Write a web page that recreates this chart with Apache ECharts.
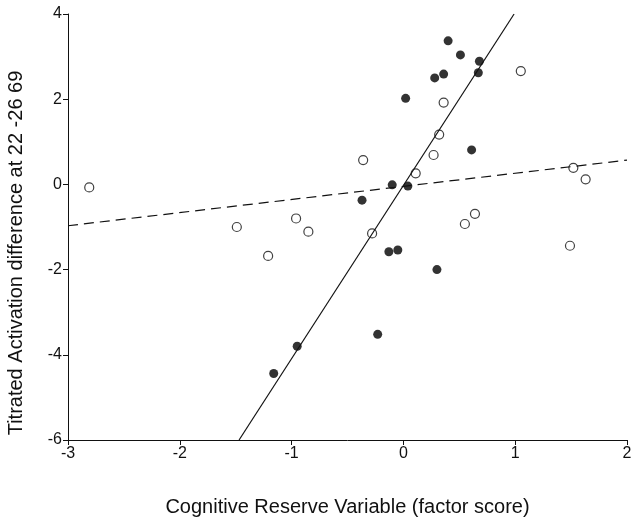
<!DOCTYPE html>
<html>
<head>
<meta charset="utf-8">
<script src="https://cdn.jsdelivr.net/npm/echarts@6/dist/echarts.min.js"></script>
<style>
html,body{margin:0;padding:0;background:#fff;}
#chart{width:636px;height:528px;}
</style>
</head>
<body>
<div id="chart"></div>
<script>
// filled circles [x, y]
const filledPoints = [
  [0.40, 3.37], [0.51, 3.04], [0.68, 2.89], [0.67, 2.62], [0.28, 2.50],
  [0.36, 2.59], [0.02, 2.02], [0.61, 0.81], [-0.10, -0.01], [0.04, -0.04],
  [-0.37, -0.37], [-0.13, -1.58], [-0.05, -1.54], [0.30, -2.00],
  [-0.23, -3.52], [-0.95, -3.80], [-1.16, -4.44]
];
// open circles [x, y]
const openPoints = [
  [1.05, 2.66], [0.36, 1.92], [0.32, 1.17], [0.27, 0.69], [-0.36, 0.57],
  [0.11, 0.26], [1.52, 0.39], [1.63, 0.12], [0.64, -0.69], [0.55, -0.93],
  [-0.28, -1.15], [1.49, -1.44], [-2.81, -0.07], [-1.49, -1.00],
  [-0.96, -0.80], [-0.85, -1.11], [-1.21, -1.68]
];
// regression lines (endpoints)
const solidLine = [[-1.47, -6], [0.99, 4]];
const dashedLine = [[-3, -0.97], [2, 0.57]];

const xTitle = 'Cognitive Reserve Variable (factor score)';
const yTitle = 'Titrated Activation difference at 22 -26 69';

const font = 'Liberation Sans, Arial, sans-serif';
const chart = echarts.init(document.getElementById('chart'), null, {renderer: 'canvas'});
chart.setOption({
  animation: false,
  backgroundColor: '#fff',
  grid: {left: 68, right: 9, top: 14, bottom: 88, containLabel: false},
  xAxis: {
    type: 'value', min: -3, max: 2, interval: 1,
    axisLine: {onZero: false, lineStyle: {color: '#111', width: 1}},
    axisTick: {inside: false, length: 5, lineStyle: {color: '#111'}},
    axisLabel: {color: '#111', fontSize: 16, fontFamily: font, margin: 6},
    splitLine: {show: false},
    name: xTitle, nameLocation: 'middle', nameGap: 57,
    nameTextStyle: {color: '#111', fontSize: 20, fontFamily: font}
  },
  yAxis: {
    type: 'value', min: -6, max: 4, interval: 2,
    axisLine: {onZero: false, lineStyle: {color: '#111', width: 1}},
    axisTick: {inside: false, length: 5, lineStyle: {color: '#111'}},
    axisLabel: {color: '#111', fontSize: 16, fontFamily: font, margin: 6},
    splitLine: {show: false}
  },
  graphic: [{
    type: 'text',
    x: 16, y: 253, rotation: Math.PI / 2,
    style: {
      text: yTitle, fill: '#111', fontSize: 20, fontFamily: font,
      align: 'center', verticalAlign: 'middle'
    }
  }],
  series: [
    {
      type: 'line', data: solidLine, symbol: 'none',
      lineStyle: {color: '#111', width: 1.2}, silent: true
    },
    {
      type: 'line', data: dashedLine, symbol: 'none',
      lineStyle: {color: '#111', width: 1.2, type: [10, 6]}, silent: true
    },
    {
      type: 'scatter', data: openPoints, symbol: 'circle', symbolSize: 9,
      itemStyle: {color: '#fff', borderColor: '#111', borderWidth: 1.2}
    },
    {
      type: 'scatter', data: filledPoints, symbol: 'circle', symbolSize: 9,
      itemStyle: {color: '#000', borderColor: '#000', borderWidth: 0}
    }
  ]
});
</script>
</body>
</html>
